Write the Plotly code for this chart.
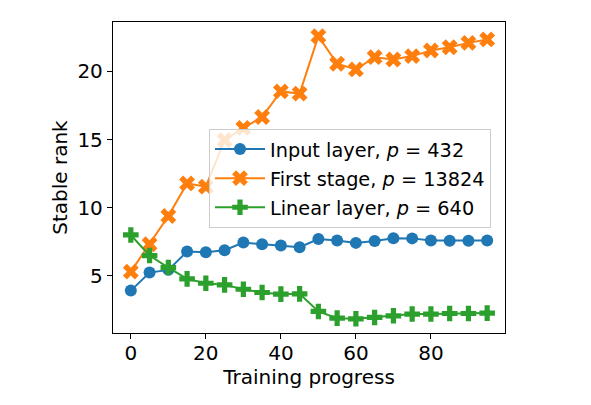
import plotly.graph_objects as go

progress = [0, 5, 10, 15, 20, 25, 30, 35, 40, 45,
            50, 55, 60, 65, 70, 75, 80, 85, 90, 95]

input_layer = [3.92, 5.24, 5.44, 6.78, 6.73, 6.88, 7.44, 7.32, 7.22, 7.10,
               7.70, 7.60, 7.42, 7.56, 7.76, 7.75, 7.60, 7.58, 7.58, 7.59]
first_stage = [5.31, 7.32, 9.39, 11.78, 11.54, 14.95, 15.85, 16.65, 18.53, 18.37,
               22.58, 20.56, 20.14, 21.04, 20.87, 21.12, 21.53, 21.77, 22.09, 22.34]
linear_layer = [8.00, 6.49, 5.61, 4.78, 4.46, 4.34, 4.02, 3.78, 3.66, 3.68,
                2.39, 1.90, 1.85, 1.95, 2.07, 2.20, 2.20, 2.24, 2.24, 2.27]

names = ["Input layer, <i>p</i> = 432",
         "First stage, <i>p</i> = 13824",
         "Linear layer, <i>p</i> = 640"]
colors = ["#1f77b4", "#ff7f0e", "#2ca02c"]
symbols = ["circle", "x", "cross"]
sizes = [12, 14, 13]

x_ticks = [0, 20, 40, 60, 80]
y_ticks = [5, 10, 15, 20]

fig = go.Figure()
for i, (ys, nm, c, s, sz) in enumerate(zip([input_layer, first_stage, linear_layer], names, colors, symbols, sizes)):
    fig.add_trace(go.Scatter(
        x=progress, y=ys, name=nm, mode="lines+markers",
        legendgroup=f"g{i}",
        line=dict(color=c, width=2),
        marker=dict(symbol=s, size=sz, color=c, line=dict(width=0)),
    ))

font = "DejaVu Sans"
fs = 20
fig.update_layout(
    template="none",
    width=583, height=397,
    margin=dict(l=105, r=86, t=14, b=72, autoexpand=False),
    paper_bgcolor="white", plot_bgcolor="white",
    font=dict(family=font, size=fs, color="black"),
    showlegend=True,
    legend=dict(
        x=(209 - 113) / 392, y=(333 - 129) / 311, xanchor="left", yanchor="top",
        bgcolor="rgba(255,255,255,0.8)", bordercolor="#cccccc", borderwidth=1,
        font=dict(family=font, size=19.3, color="black"),
        traceorder="grouped", tracegroupgap=1, itemwidth=50,
    ),
    xaxis=dict(
        range=[-4.75, 99.75], tickvals=x_ticks, ticktext=[str(v) for v in x_ticks],
        automargin=False,
        showgrid=False, zeroline=False, showline=True, linecolor="black", linewidth=1.3,
        mirror=True, ticks="outside", ticklen=5, tickwidth=1.2, tickcolor="black",
        tickfont=dict(family=font, size=fs), ticklabelstandoff=-3,
        title=dict(text="Training progress", font=dict(family=font, size=fs), standoff=1),
    ),
    yaxis=dict(
        range=[0.81, 23.62], tickvals=y_ticks, ticktext=[str(v) for v in y_ticks],
        automargin=False,
        showgrid=False, zeroline=False, showline=True, linecolor="black", linewidth=1.3,
        mirror=True, ticks="outside", ticklen=5, tickwidth=1.2, tickcolor="black",
        tickfont=dict(family=font, size=fs),
        title=dict(text="Stable rank", font=dict(family=font, size=fs), standoff=4),
    ),
)

fig.write_html("out.html")
